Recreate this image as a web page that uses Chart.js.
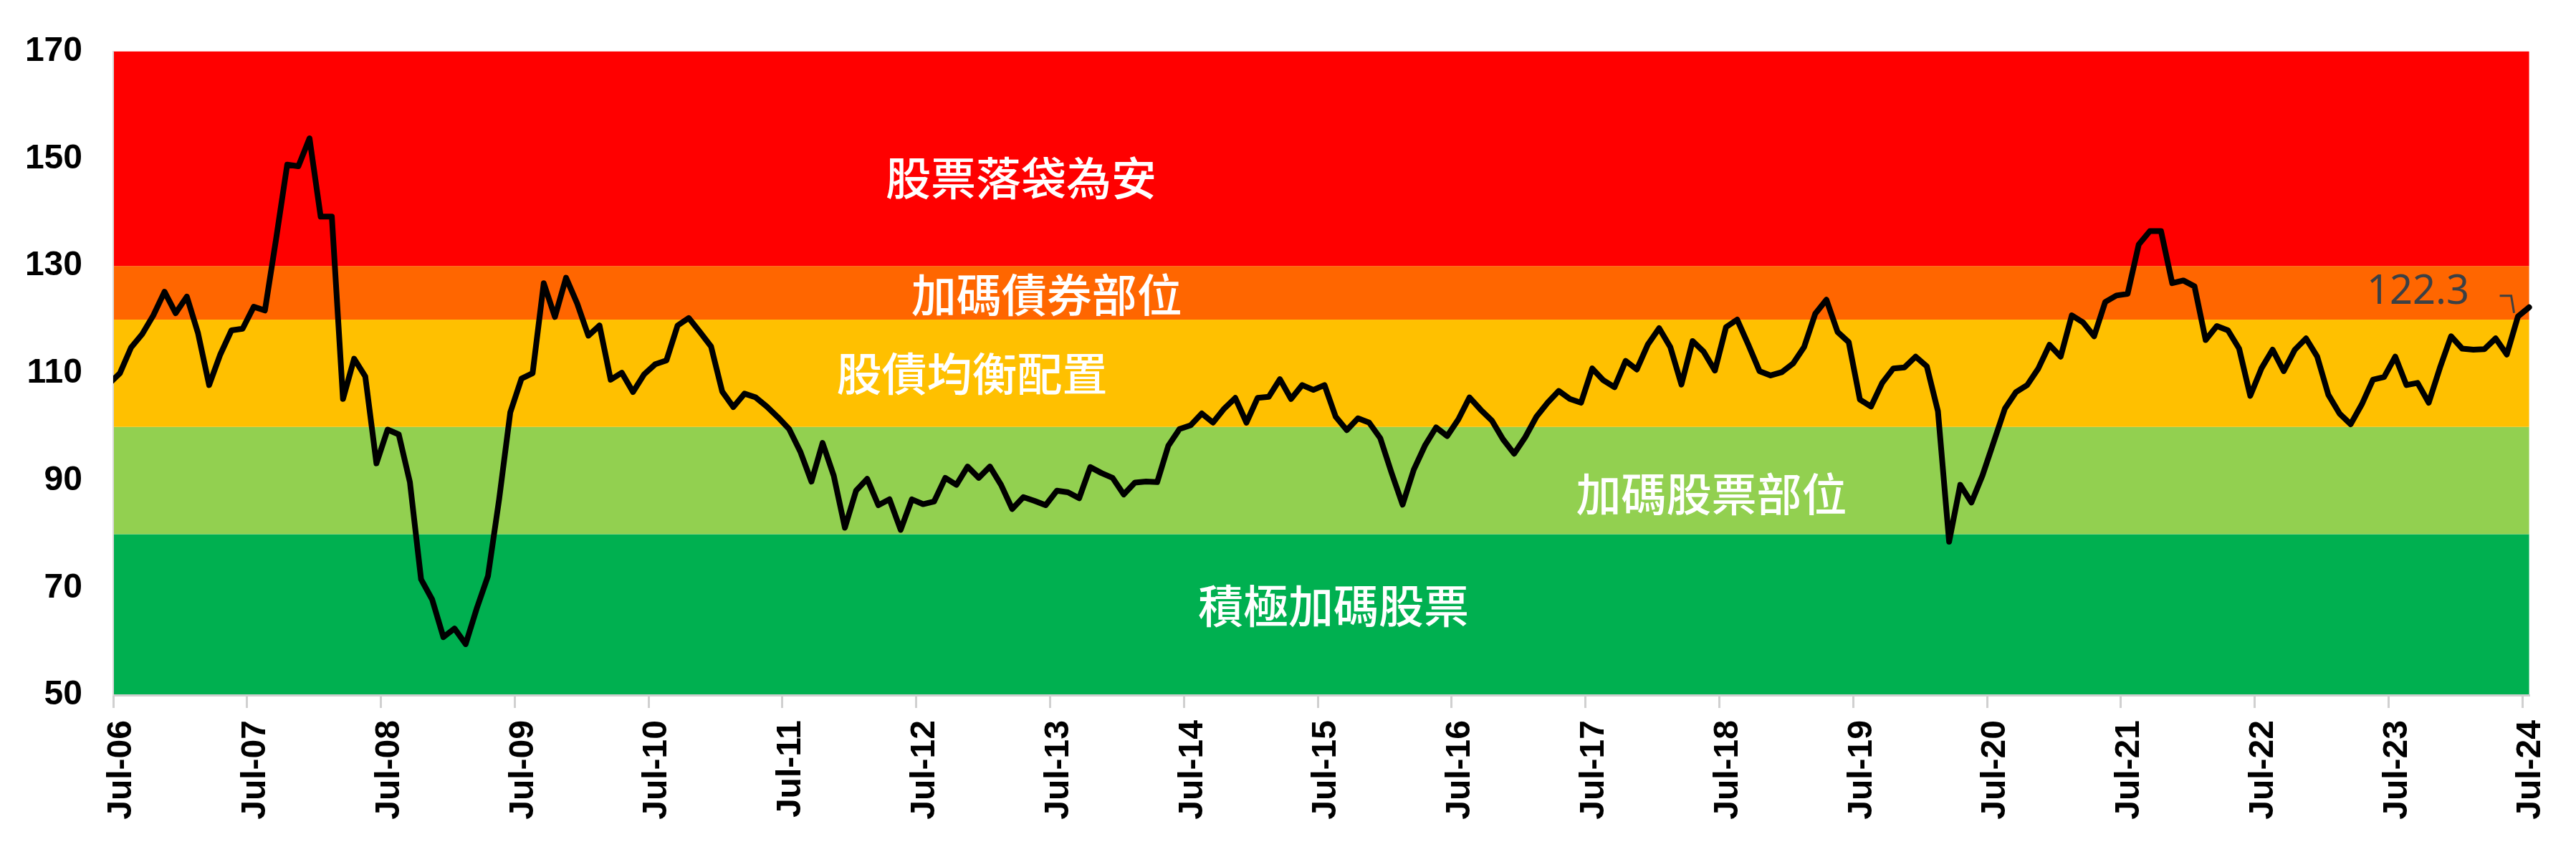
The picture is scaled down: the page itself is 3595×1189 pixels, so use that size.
<!DOCTYPE html>
<html>
<head>
<meta charset="utf-8">
<script src="https://cdn.jsdelivr.net/npm/chart.js@4.4.1/dist/chart.umd.min.js"></script>
<style>
  html, body { margin: 0; padding: 0; background: #fff; }
  #wrap { width: 3595px; height: 1189px; position: relative; }
</style>
</head>
<body>
<div id="wrap"><canvas id="chart"></canvas></div>
<script>
// Monthly readings, first entry is Jun-06 (partly outside the plot), last is Jul-24
const values = [
    108.0,
    110.0, 114.8, 117.3, 120.8, 125.2, 121.2, 124.3, 117.5, 107.8, 113.5, 118.0, 118.3, // Jul-06 .. Jun-07
    122.4, 121.7, 135.0, 148.9, 148.6, 153.8, 139.2, 139.2, 105.2, 112.7, 109.4, 93.2,  // Jul-07 .. Jun-08
    99.5, 98.6, 89.7, 71.6, 67.8, 60.8, 62.4, 59.5, 66.2, 72.2, 86.5, 102.7,            // Jul-08 .. Jun-09
    109.0, 110.0, 126.8, 120.5, 127.8, 123.0, 117.0, 118.9, 108.8, 110.1, 106.5, 109.8, // Jul-09 .. Jun-10
    111.7, 112.4, 118.9, 120.3, 117.7, 115.0, 106.6, 103.7, 106.2, 105.5, 103.8, 101.8, // Jul-10 .. Jun-11
    99.6, 95.4, 89.8, 97.0, 90.9, 81.2, 88.1, 90.3, 85.4, 86.5, 80.8, 86.5,             // Jul-11 .. Jun-12
    85.6, 86.1, 90.5, 89.2, 92.6, 90.5, 92.6, 89.2, 84.7, 86.9, 86.2, 85.4,             // Jul-12 .. Jun-13
    88.1, 87.8, 86.7, 92.5, 91.4, 90.5, 87.4, 89.6, 89.8, 89.7, 96.5, 99.6,             // Jul-13 .. Jun-14
    100.3, 102.5, 100.8, 103.4, 105.4, 100.8, 105.4, 105.6, 108.9, 105.2, 107.8, 106.9, // Jul-14 .. Jun-15
    107.8, 101.9, 99.4, 101.6, 100.8, 97.9, 91.5, 85.5, 92.0, 96.5, 99.9, 98.3,         // Jul-15 .. Jun-16
    101.4, 105.5, 103.2, 101.2, 97.7, 95.0, 98.1, 101.9, 104.5, 106.7, 105.2, 104.5,    // Jul-16 .. Jun-17
    110.9, 108.7, 107.4, 112.3, 110.7, 115.4, 118.4, 114.9, 107.9, 116.0, 114.0, 110.5, // Jul-17 .. Jun-18
    118.6, 120.0, 115.3, 110.4, 109.6, 110.2, 111.8, 114.9, 121.1, 123.7, 117.7, 115.8, // Jul-18 .. Jun-19
    105.1, 103.8, 108.2, 110.9, 111.1, 113.1, 111.3, 102.9, 78.6, 89.2, 85.9, 91.0,     // Jul-19 .. Jun-20
    97.2, 103.4, 106.5, 107.8, 110.9, 115.3, 113.1, 120.8, 119.5, 116.9, 123.3, 124.5,  // Jul-20 .. Jun-21
    124.8, 134.0, 136.5, 136.5, 126.8, 127.3, 126.2, 116.2, 118.8, 118.0, 114.6, 105.8, // Jul-21 .. Jun-22
    110.9, 114.4, 110.4, 114.4, 116.5, 113.1, 106.0, 102.5, 100.5, 104.2, 108.8, 109.3, // Jul-22 .. Jun-23
    113.1, 107.8, 108.2, 104.5, 111.0, 116.9, 114.6, 114.4, 114.5, 116.5, 113.5, 120.6, // Jul-23 .. Jun-24
    122.3                                                                                // Jul-24
];

// x axis ticks (months since Jul-06)
const tickMonths = [0, 12, 24, 36, 48, 60, 72, 84, 96, 108, 120, 132, 144, 156, 168, 180, 192, 204, 216];
const tickLabels = ['Jul-06', 'Jul-07', 'Jul-08', 'Jul-09', 'Jul-10', 'Jul-11', 'Jul-12', 'Jul-13', 'Jul-14',
    'Jul-15', 'Jul-16', 'Jul-17', 'Jul-18', 'Jul-19', 'Jul-20', 'Jul-21', 'Jul-22', 'Jul-23', 'Jul-24'];
const yTicks = [50, 70, 90, 110, 130, 150, 170];

// Allocation zones, bottom to top
const zoneBounds = [50, 80, 100, 120, 130, 170];
const zoneNames = ['積極加碼股票', '加碼股票部位', '股債均衡配置', '加碼債券部位', '股票落袋為安'];

// Styling / layout
const zoneColors = ['#00B050', '#92D050', '#FFC000', '#FF6600', '#FF0000'];
const zoneLabelAnchors = [[109.4, 66.7], [143.3, 87.5], [77.0, 110.0], [83.7, 124.7], [81.4, 146.5]]; // [month, value]
const POINT_SHIFT = -0.4; // first reading sits just left of the Jul-06 tick
const X_MAX = 216.6;

const points = values.map((v, i) => ({ x: i + POINT_SHIFT, y: v }));

const zonesPlugin = {
    id: 'zones',
    beforeDraw(chart) {
        const { ctx, chartArea, scales } = chart;
        ctx.save();
        for (let i = 0; i < zoneColors.length; i++) {
            const yTop = scales.y.getPixelForValue(zoneBounds[i + 1]);
            const yBot = scales.y.getPixelForValue(zoneBounds[i]);
            ctx.fillStyle = zoneColors[i];
            ctx.fillRect(chartArea.left, yTop, chartArea.right - chartArea.left, yBot - yTop);
        }
        ctx.restore();
    }
};

const labelsPlugin = {
    id: 'zoneLabels',
    afterDatasetsDraw(chart) {
        const { ctx, scales } = chart;
        ctx.save();
        ctx.fillStyle = '#fff';
        ctx.font = '500 63px "Noto Sans CJK TC"';
        ctx.textAlign = 'center';
        ctx.textBaseline = 'middle';
        zoneNames.forEach((name, i) => {
            const [m, v] = zoneLabelAnchors[i];
            ctx.fillText(name, scales.x.getPixelForValue(m), scales.y.getPixelForValue(v));
        });

        // last value label with its small leader line
        const meta = chart.getDatasetMeta(0);
        const last = meta.data[meta.data.length - 1];
        ctx.strokeStyle = '#404040';
        ctx.lineWidth = 3;
        ctx.beginPath();
        ctx.moveTo(last.x - 41, last.y - 16);
        ctx.lineTo(last.x - 25, last.y - 16);
        ctx.lineTo(last.x - 21, last.y + 8);
        ctx.stroke();
        ctx.fillStyle = '#3b4045';
        ctx.font = '56px "Noto Sans"';
        ctx.fillText(values[values.length - 1].toFixed(1), last.x - 155, last.y - 21);
        ctx.restore();
    }
};

const axisFont = { family: '"Liberation Sans", Arial, sans-serif', weight: 'bold', size: 48 };

new Chart(document.getElementById('chart'), {
    type: 'line',
    data: {
        datasets: [{
            data: points,
            borderColor: '#000',
            borderWidth: 8,
            pointRadius: 0,
            tension: 0,
            fill: false,
            borderJoinStyle: 'round',
            borderCapStyle: 'round',
            clip: { left: 0, top: 10, right: 10, bottom: 10 }
        }]
    },
    options: {
        responsive: true,
        maintainAspectRatio: false,
        devicePixelRatio: 1,
        animation: false,
        layout: { padding: { top: 66, right: 62, bottom: 0, left: 0 } },
        plugins: { legend: { display: false }, tooltip: { enabled: false } },
        scales: {
            x: {
                type: 'linear',
                min: 0,
                max: X_MAX,
                afterBuildTicks: s => { s.ticks = tickMonths.map(v => ({ value: v })); },
                afterFit: s => { s.height = 219; },
                grid: { drawOnChartArea: false, drawTicks: true, tickLength: 18, color: '#d0d0d0', lineWidth: 3 },
                border: { display: true, color: '#d0d0d0', width: 3 },
                ticks: {
                    autoSkip: false,
                    maxRotation: 90,
                    minRotation: 90,
                    padding: 17,
                    labelOffset: 12,
                    color: '#000',
                    font: axisFont,
                    callback: v => tickLabels[tickMonths.indexOf(v)]
                }
            },
            y: {
                min: 50,
                max: 170,
                afterBuildTicks: s => { s.ticks = yTicks.map(v => ({ value: v })); },
                afterFit: s => { s.width = 158; },
                grid: { display: false, drawTicks: false },
                border: { display: true, color: '#d9d9d9', width: 2 },
                ticks: { padding: 43, color: '#000', font: axisFont }
            }
        }
    },
    plugins: [zonesPlugin, labelsPlugin]
});
</script>
</body>
</html>
